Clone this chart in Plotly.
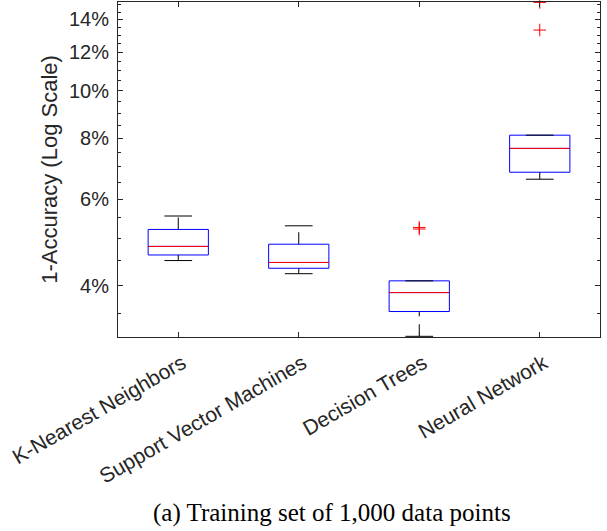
import plotly.graph_objects as go
import math

categories = ["K-Nearest Neighbors", "Support Vector Machines", "Decision Trees", "Neural Network"]
q1 = [4.62, 4.34, 3.54, 6.82]
median = [4.81, 4.46, 3.87, 7.63]
q3 = [5.21, 4.86, 4.09, 8.12]
whisker_low = [4.50, 4.23, 3.15, 6.60]
whisker_high = [5.55, 5.30, 4.09, 8.12]
outliers = [[], [], [5.26, 5.22], [13.32, 15.17]]
major_ticks = [4, 6, 8, 10, 12, 14]
tick_labels = ["4%", "6%", "8%", "10%", "12%", "14%"]
minor_ticks = [3.5, 4.5, 5, 5.5, 6.5, 7, 7.5, 8.5, 9, 9.5, 10.5, 11, 11.5,
               12.5, 13, 13.5, 14.5, 15]
y_limits = [3.14, 15.2]
caption = "(a) Training set of 1,000 data points"

pos = list(range(1, len(categories) + 1))
BOX_W = 0.5
CAP_W = 0.23
AX = "#262626"

fig = go.Figure()

for i, p in enumerate(pos):
    fig.add_trace(go.Box(
        x=[p], q1=[q1[i]], median=[median[i]], q3=[q3[i]],
        lowerfence=[q1[i]], upperfence=[q3[i]],
        width=BOX_W, whiskerwidth=0, boxpoints=False,
        line=dict(color="#0000ff", width=1),
        fillcolor="rgba(0,0,0,0)", showlegend=False, name=categories[i]))

# whiskers (dashed, black), drawn upward
wx, wy = [], []
for i, p in enumerate(pos):
    wx += [p, p, None, p, p, None]
    wy += [whisker_low[i], q1[i], None, q3[i], whisker_high[i], None]
fig.add_trace(go.Scatter(x=wx, y=wy, mode="lines",
                         line=dict(color="black", width=1, dash="12px,8px"),
                         showlegend=False, cliponaxis=False, hoverinfo="skip"))

# caps
cx, cy = [], []
for i, p in enumerate(pos):
    cx += [p - CAP_W / 2, p + CAP_W / 2, None, p - CAP_W / 2, p + CAP_W / 2, None]
    cy += [whisker_low[i], whisker_low[i], None, whisker_high[i], whisker_high[i], None]
fig.add_trace(go.Scatter(x=cx, y=cy, mode="lines",
                         line=dict(color="black", width=1),
                         showlegend=False, cliponaxis=False, hoverinfo="skip"))

# medians
mx, my = [], []
for i, p in enumerate(pos):
    mx += [p - BOX_W / 2, p + BOX_W / 2, None]
    my += [median[i], median[i], None]
fig.add_trace(go.Scatter(x=mx, y=my, mode="lines",
                         line=dict(color="#ff0000", width=1),
                         showlegend=False, hoverinfo="skip"))

# outliers
ox, oy = [], []
for i, p in enumerate(pos):
    for v in outliers[i]:
        ox.append(p)
        oy.append(v)
fig.add_trace(go.Scatter(x=ox, y=oy, mode="markers",
                         marker=dict(symbol="cross-thin", size=9,
                                     line=dict(color="#ff0000", width=1)),
                         showlegend=False, cliponaxis=False))

fig.update_layout(
    width=607, height=531,
    margin=dict(l=118, r=7, t=2, b=194, autoexpand=False),
    paper_bgcolor="white", plot_bgcolor="white",
    font=dict(family="Liberation Sans, Arial, sans-serif", color=AX, size=20),
    boxmode="overlay",
    annotations=[dict(text=caption, xref="paper", yref="paper",
                      x=0.444, y=-0.525, xanchor="center", yanchor="middle",
                      showarrow=False,
                      font=dict(family="Liberation Serif, Times New Roman, serif",
                                size=25, color="black"))],
)
fig.update_xaxes(
    range=[0.5, 4.5], tickmode="array", tickvals=pos, ticktext=categories,
    tickangle=-30, ticks="inside", ticklen=5, tickcolor=AX,
    ticklabelstandoff=5, ticklabelshift=4,
    showline=True, linecolor=AX, linewidth=1, mirror="allticks",
    showgrid=False, zeroline=False, tickfont=dict(size=21), automargin=False,
)
fig.update_yaxes(
    type="log", range=[math.log10(y_limits[0]), math.log10(y_limits[1])],
    tickmode="array", tickvals=major_ticks, ticktext=tick_labels,
    ticks="inside", ticklen=5, tickcolor=AX, ticklabelstandoff=4,
    minor=dict(tickmode="array", tickvals=minor_ticks, ticks="inside",
               ticklen=3, tickcolor=AX, showgrid=False),
    showline=True, linecolor=AX, linewidth=1, mirror="allticks",
    showgrid=False, zeroline=False, tickfont=dict(size=20), automargin=False,
    title=dict(text="1-Accuracy (Log Scale)", font=dict(size=22), standoff=5),
)

fig.write_html("out.html", config={"displayModeBar": False},
               post_script="document.body.style.margin='0';")
